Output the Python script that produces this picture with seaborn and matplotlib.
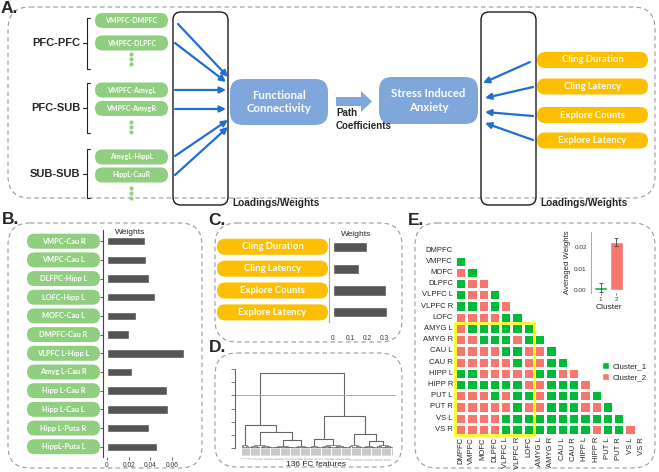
import numpy as np
import pandas as pd
import matplotlib
matplotlib.use("Agg")
import matplotlib.pyplot as plt
import seaborn as sns
from matplotlib.patches import FancyBboxPatch, Rectangle, Patch, FancyArrow
from matplotlib.colors import ListedColormap

sns.set_theme(style="white")
plt.rcParams['font.family'] = ['Liberation Sans', 'DejaVu Sans']

# ---- data ----
a_fc_labels = ["VMPFC-DMPFC", "VMPFC-DLPFC", "VMPFC-AmygL", "VMPFC-AmygR", "AmygL-HippL", "HippL-CauR"]
a_groups = ["PFC-PFC", "PFC-SUB", "SUB-SUB"]

b_labels = ["VMPC-Cau R", "VMPC-Cau L", "DLFPC-Hipp L", "LOFC-Hipp L", "MOFC-Cau L", "DMPFC-Cau R",
            "VLPFC L-Hipp L", "Amyg L-Cau R", "Hipp L-Cau R", "Hipp L-Cau L", "Hipp L-Puta R", "HippL-Puta L"]
b_weights = [0.035, 0.036, 0.039, 0.044, 0.027, 0.020, 0.071, 0.023, 0.055, 0.056, 0.039, 0.046]
b_ticks = [0, 0.02, 0.04, 0.06]

c_labels = ["Cling Duration", "Cling Latency", "Explore Counts", "Explore Latency"]
c_weights = [0.20, 0.155, 0.31, 0.318]
c_ticks = [0, 0.1, 0.2, 0.3]

# dendrogram: leaf groups (size, merge height) and linkage of the groups
dendro_group_sizes = [7, 21, 20, 13, 10, 25, 13, 12, 15]
dendro_group_heights = [0.2, 0.22, 0.15, 0.14, 0.15, 0.18, 0.22, 0.15, 0.2]
link_a = [2, 1, 0, 4, 7, 6, 12, 11]
link_b = [3, 9, 10, 5, 8, 13, 14, 15]
link_h = [0.58, 1.2, 1.75, 0.65, 0.52, 1.08, 2.45, 5.7]
cut_height = 4.0

regions = ["DMPFC", "VMPFC", "MOFC", "DLPFC", "VLPFC L", "VLPFC R", "LOFC", "AMYG L", "AMYG R",
           "CAU L", "CAU R", "HIPP L", "HIPP R", "PUT L", "PUT R", "VS L", "VS R"]
cluster_rows = [
    "",
    "1",
    "21",
    "122",
    "1221",
    "11212",
    "222211",
    "2111111",
    "22111211",
    "222211221",
    "2222212211",
    "11222221122",
    "111111221112",
    "2221211211121",
    "22222122111221",
    "222211111111111",
    "2222111111112112",
]

cluster_ids = ["1", "2"]
avg_weights = [0.0014, 0.0225]
avg_err = [0.0021, 0.0018]

# ---- colours ----
pill_green = "#90cf80"
pill_orange = "#fdbf00"
box_blue = "#7fa7db"
arrow_blue = "#1f6fd2"
bar_grey = "#555555"
c1 = "#00BA38"
c2 = "#F8766D"

W, H = 659, 472
fig = plt.figure(figsize=(W / 100, H / 100), dpi=100)
bg = fig.add_axes([0, 0, 1, 1])
bg.set_xlim(0, W)
bg.set_ylim(H, 0)
bg.axis('off')


def px_axes(x0, y0, x1, y1):
    ax = fig.add_axes([x0 / W, 1 - y1 / H, (x1 - x0) / W, (y1 - y0) / H])
    ax.set_facecolor('none')
    return ax


def dashed_box(x0, y0, x1, y1, r=22):
    bg.add_patch(FancyBboxPatch((x0, y0), x1 - x0, y1 - y0,
                                boxstyle=f"round,pad=0,rounding_size={r}",
                                fc='none', ec='#9a9a9a', lw=0.8, ls=(0, (4, 3))))


def pill(x0, x1, yc, h, text, fc, fs):
    bg.add_patch(FancyBboxPatch((x0, yc - h / 2), x1 - x0, h,
                                boxstyle=f"round,pad=0,rounding_size={h / 2}", fc=fc, ec='none'))
    bg.text((x0 + x1) / 2, yc, text, ha='center', va='center', color='white',
            fontsize=fs, fontweight='bold', family=['Lato', 'DejaVu Sans'])


def arrow(p0, p1):
    bg.annotate('', xy=p1, xytext=p0,
                arrowprops=dict(arrowstyle='-|>', color=arrow_blue, lw=1.6,
                                mutation_scale=9, shrinkA=0, shrinkB=0))


# panel boxes and letters
dashed_box(8, 7, 655, 198)
dashed_box(8, 223, 202, 468)
dashed_box(215, 223, 402, 342)
dashed_box(215, 353, 402, 467)
dashed_box(415, 223, 655, 468)
for lab, x, y in [("A.", 1, 1), ("B.", 2, 212), ("C.", 208, 213), ("D.", 209, 340), ("E.", 408, 213)]:
    bg.text(x, y, lab, fontsize=12.5, fontweight='bold', va='top', ha='left')

# ---- A ----
for lab, yc, yt, yb in zip(a_groups, [43, 108, 174], [18, 83, 149], [69, 133, 198]):
    bg.text(80, yc, lab, ha='right', va='center', fontsize=8, fontweight='bold')
    bg.plot([90, 87, 87, 90], [yt, yt, yb, yb], color='#222222', lw=0.8)
    bg.plot([83, 87], [yc, yc], color='#222222', lw=0.8)
for lab, yc in zip(a_fc_labels, [20.5, 43, 90, 108.5, 157, 175]):
    pill(95, 168, yc, 15, lab, pill_green, 5)
for y0 in [54, 122, 188]:
    bg.scatter([131] * 3, [y0, y0 + 5, y0 + 10], s=4, color=pill_green, zorder=3)

for x0 in [173, 481]:
    bg.add_patch(FancyBboxPatch((x0, 12), 55, 193, boxstyle="round,pad=0,rounding_size=8",
                                fc='none', ec='#1a1a1a', lw=1.0))
    bg.text(x0 + 59, 203, "Loadings/Weights", ha='left', va='center', fontsize=7.3, fontweight='bold')

for p0, p1 in [((178, 24), (228, 77)), ((175, 43), (226, 82)), ((175, 90), (226, 90)),
               ((175, 109), (226, 109)), ((175, 156), (228, 120)), ((175, 175), (228, 127)),
               ((530, 62), (483, 83)), ((533, 87), (485, 98)), ((533, 116), (485, 112)),
               ((533, 140), (485, 123))]:
    arrow(p0, p1)

bg.add_patch(FancyBboxPatch((230, 79), 98, 46, boxstyle="round,pad=0,rounding_size=13", fc=box_blue, ec='none'))
bg.text(279, 102, "Functional\nConnectivity", ha='center', va='center', color='white', fontsize=8.2,
        fontweight='bold', family=['Lato', 'DejaVu Sans'], linespacing=1.25)
bg.add_patch(FancyBboxPatch((379, 77), 99, 47, boxstyle="round,pad=0,rounding_size=13", fc=box_blue, ec='none'))
bg.text(428.5, 100.5, "Stress Induced\nAnxiety", ha='center', va='center', color='white', fontsize=8.2,
        fontweight='bold', family=['Lato', 'DejaVu Sans'], linespacing=1.25)
bg.add_patch(FancyArrow(336, 101.5, 36, 0, width=9, head_width=21, head_length=11,
                        length_includes_head=True, fc=box_blue, ec='none'))
bg.text(336, 119.5, "Path\nCoefficients", ha='left', va='center', fontsize=7, fontweight='bold', linespacing=1.3)

for lab, yc in zip(c_labels, [60, 86.5, 115, 140.5]):
    pill(537, 648, yc, 16, lab, pill_orange, 6.8)

# ---- B ----
axB = px_axes(107, 230, 191.6, 457)
sns.barplot(x=b_weights, y=b_labels, orient='h', color=bar_grey, saturation=1, width=0.45, ax=axB)
axB.set_xlim(0, 0.078)
axB.set_ylim(11.55, -0.6)
sns.despine(ax=axB, top=True, right=True, bottom=True)
axB.spines['left'].set_position(('outward', 3))
axB.spines['left'].set_linewidth(0.8)
axB.spines['left'].set_color('#444444')
axB.set_xticks(b_ticks)
axB.set_xticklabels(["0", "0.02", "0.04", "0.06"])
axB.set_yticklabels([])
axB.set_xlabel("")
axB.set_ylabel("")
axB.tick_params(axis='x', bottom=True, length=2, width=0.5, pad=1.5, labelsize=4.8, colors='#333333')
axB.tick_params(axis='y', left=True, length=2, width=0.5)
axB.text(0.27, 0.99, "Weights", transform=axB.transAxes, ha='center', va='center', fontsize=6)
for i, lab in enumerate(b_labels):
    yc = H - axB.transData.transform((0, i))[1]
    pill(27, 100, yc, 15, lab, pill_green, 5.3)

# ---- C ----
axC = px_axes(333, 238, 389, 322)
sns.barplot(x=c_weights, y=c_labels, orient='h', color=bar_grey, saturation=1, width=0.46, ax=axC)
axC.set_xlim(0, 0.33)
axC.set_ylim(3.44, -0.4)
sns.despine(ax=axC, top=True, right=True, bottom=True)
axC.spines['left'].set_position(('outward', 3))
axC.spines['left'].set_linewidth(0.8)
axC.spines['left'].set_color('#aaaaaa')
axC.set_xticks(c_ticks)
axC.set_xticklabels(["0", "0.1", "0.2", "0.3"])
axC.set_yticklabels([])
axC.set_xlabel("")
axC.set_ylabel("")
axC.tick_params(axis='x', bottom=False, pad=3, labelsize=4.8, colors='#333333')
axC.tick_params(axis='y', left=False)
axC.text(0.41, 1.04, "Weights", transform=axC.transAxes, ha='center', va='center', fontsize=6)
for i, lab in enumerate(c_labels):
    yc = H - axC.transData.transform((0, i))[1]
    pill(217, 328, yc, 16, lab, pill_orange, 6.8)

# ---- D ----
axD = px_axes(235, 369.3, 396, 447.7)
dcol = '#666666'


def draw_group(ax, lo, n, h):
    if n == 1:
        # short stub under each leaf, like the crowded leaf labels of the original
        ax.plot([lo, lo], [0, -0.55], color='#a0a0a0', lw=0.4, clip_on=False)
        return float(lo), 0.0
    k = n // 2
    xl, hl = draw_group(ax, lo, k, h * 0.6)
    xr, hr = draw_group(ax, lo + k, n - k, h * 0.6)
    ax.plot([xl, xl, xr, xr], [hl, h, h, hr], color=dcol, lw=0.5)
    return (xl + xr) / 2, h


nodes = []
start = 0
for n, h in zip(dendro_group_sizes, dendro_group_heights):
    nodes.append(draw_group(axD, start, n, h))
    start += n
for a, b, h in zip(link_a, link_b, link_h):
    (xa, ha), (xb, hb) = nodes[a], nodes[b]
    axD.plot([xa, xa, xb, xb], [ha, h, h, hb], color=dcol, lw=0.8)
    nodes.append(((xa + xb) / 2, h))
n_leaves = sum(dendro_group_sizes)
axD.axhline(cut_height, color='#f08888', lw=0.7)
axD.set_xlim(-6, 139)
axD.set_ylim(0, 6)
sns.despine(ax=axD, top=True, right=True, bottom=True)
axD.spines['left'].set_color(dcol)
axD.spines['left'].set_linewidth(0.8)
axD.set_yticks(range(7))
axD.set_yticklabels([])
axD.tick_params(axis='y', left=True, length=3, width=0.6, color=dcol, direction='out')
axD.set_xticks(range(n_leaves))
axD.set_xticklabels([str(i + 1) for i in range(n_leaves)], rotation=90, fontsize=0.75, color='#777777')
axD.tick_params(axis='x', bottom=False, pad=1)
axD.set_xlabel("136 FC features", fontsize=6)
axD.xaxis.set_label_coords(0.5, -0.165)

# ---- E ----
mat = np.full((len(regions), len(regions)), np.nan)
for i, row in enumerate(cluster_rows):
    for j, ch in enumerate(row):
        mat[i, j] = int(ch)
df = pd.DataFrame(mat, index=regions, columns=regions)
axE = px_axes(455, 244.4, 647, 435)
sns.heatmap(df, cmap=ListedColormap([c1, c2]), vmin=1, vmax=2, linewidths=0.8, linecolor='white',
            cbar=False, ax=axE)
axE.set_xticks(np.arange(len(regions)) + 0.5)
axE.set_xticklabels(regions, rotation=90, fontsize=5.5)
axE.set_yticks(np.arange(len(regions)) + 0.5)
axE.set_yticklabels(regions, rotation=0, fontsize=5.5)
axE.tick_params(length=0, pad=1.5)
axE.set_xlabel("")
axE.set_ylabel("")
axE.add_patch(Rectangle((0, 7), 7, 10, fc='none', ec='#ffff00', lw=1.8, clip_on=False, zorder=5))
axE.legend(handles=[Patch(fc=c1, label='Cluster_1'), Patch(fc=c2, label='Cluster_2')],
           loc='upper left', bbox_to_anchor=(602 / W, 1 - 362 / H), bbox_transform=fig.transFigure,
           frameon=False, fontsize=5.8, handlelength=0.9, handleheight=0.9, handletextpad=0.4,
           labelspacing=0.35, borderaxespad=0, borderpad=0)

axI = px_axes(591, 232, 626, 293)
sns.barplot(x=cluster_ids, y=avg_weights, hue=cluster_ids, palette=[c1, c2], saturation=1,
            width=0.85, legend=False, ax=axI)
axI.errorbar(x=[0, 1], y=avg_weights, yerr=avg_err, fmt='none', ecolor='#444444', elinewidth=0.6, capsize=1.5,
             capthick=0.6)
axI.set_xlim(-0.6, 1.6)
axI.set_ylim(-0.0014, 0.0272)
sns.despine(ax=axI, top=True, right=True, bottom=True)
axI.spines['left'].set_color('#999999')
axI.spines['left'].set_linewidth(0.6)
axI.set_yticks([0, 0.01, 0.02])
axI.set_yticklabels(["0.00", "0.01", "0.02"])
axI.tick_params(axis='both', labelsize=4.6, length=1.5, width=0.5, pad=1.5, colors='#333333')
axI.tick_params(axis='x', bottom=True)
axI.set_xlabel("Cluster", fontsize=6, labelpad=1)
axI.set_ylabel("Averaged Weights", fontsize=5.6, labelpad=2)

fig.savefig("out.png", dpi=100)
